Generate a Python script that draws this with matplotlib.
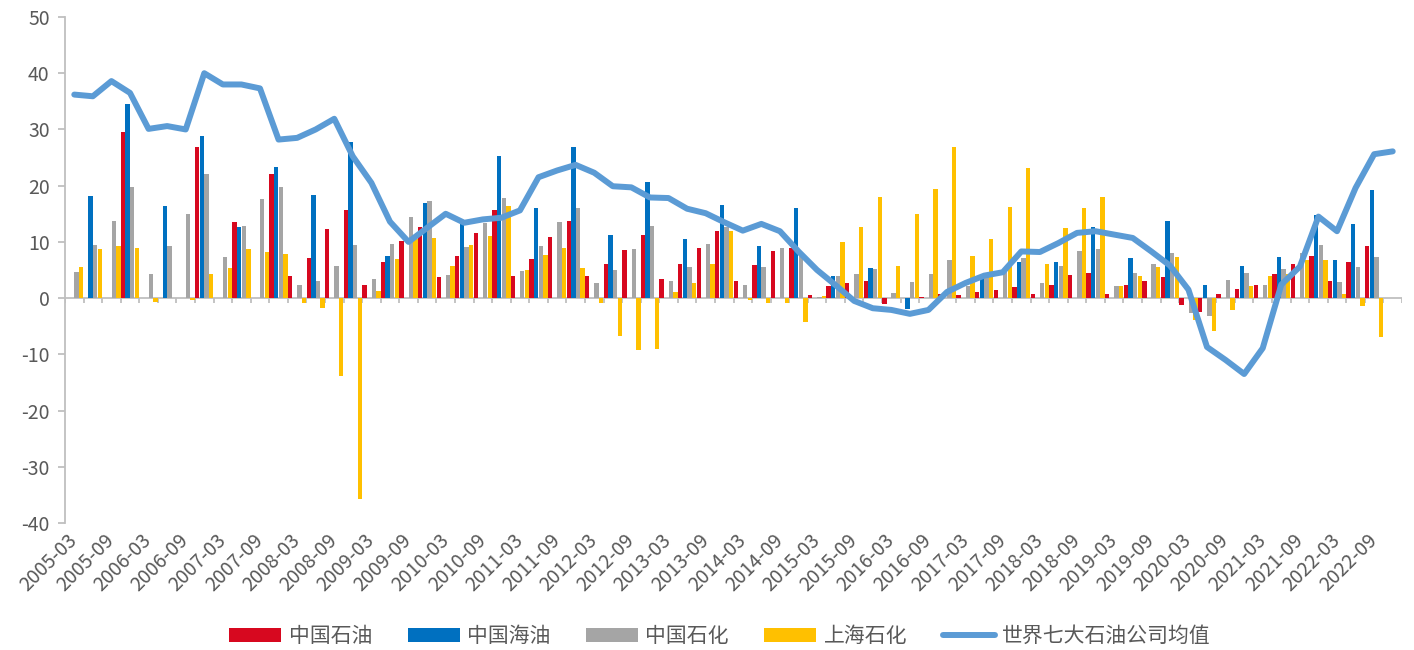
import numpy as np
import matplotlib
matplotlib.use('Agg')
import matplotlib.pyplot as plt

plt.rcParams['font.family'] = ['Noto Sans CJK SC', 'DejaVu Sans']
plt.rcParams['axes.unicode_minus'] = False

nan = np.nan

# quarterly categories 2005-03 .. 2022-12
years = list(range(2005, 2023))
months = ['03', '06', '09', '12']
quarters = [f'{y}-{m}' for y in years for m in months]

# 中国石油
petrochina = [nan, nan, nan, 29.6, nan, nan, nan, 26.9, nan, 13.5,
              nan, 22.1, 3.9, 7.1, 12.3, 15.6, 2.4, 6.4, 10.1, 12.6,
              3.8, 7.5, 11.5, 15.7, 3.9, 7.0, 10.9, 13.8, 3.9, 6.1,
              8.6, 11.3, 3.4, 6.1, 8.9, 11.9, 3.0, 5.9, 8.4, 8.9,
              0.6, 2.2, 2.6, 3.1, -1.1, nan, 0.2, 0.7, 0.5, 1.1,
              1.5, 1.9, 0.8, 2.3, 4.1, 4.4, 0.8, 2.4, 3.1, 3.7,
              -1.2, -2.4, 0.8, 1.6, 2.3, 4.3, 6.1, 7.5, 3.1, 6.4,
              9.3, nan]
# 中国海油
cnooc = [nan, 18.2, nan, 34.5, nan, 16.4, nan, 28.8, nan, 12.7,
         nan, 23.3, nan, 18.3, nan, 27.8, nan, 7.5, nan, 16.9,
         nan, 13.4, nan, 25.3, nan, 16.1, nan, 26.8, nan, 11.3,
         nan, 20.7, nan, 10.5, nan, 16.6, nan, 9.3, nan, 16.0,
         nan, 3.9, nan, 5.3, nan, -2.0, nan, nan, nan, 4.3,
         nan, 6.5, nan, 6.5, nan, 12.7, nan, 7.1, nan, 13.7,
         nan, 2.4, nan, 5.8, nan, 7.4, nan, 14.7, 6.7, 13.2,
         19.3, nan]
# 中国石化
sinopec = [4.7, 9.5, 13.7, 19.8, 4.2, 9.3, 15.0, 22.0, 7.3, 12.9,
           17.7, 19.7, 2.3, 3.1, 5.8, 9.4, 3.4, 9.7, 14.4, 17.3,
           4.1, 9.1, 13.3, 17.8, 4.8, 9.3, 13.6, 16.1, 2.7, 5.0,
           8.8, 12.9, 3.0, 5.6, 9.7, 12.6, 2.4, 5.5, 8.9, 8.1,
           0.2, 3.9, 4.2, 5.2, 0.9, 2.8, 4.3, 6.7, 2.1, 4.2,
           4.7, 7.1, 2.6, 5.8, 8.3, 8.8, 2.1, 4.4, 6.1, 8.0,
           -2.7, -3.1, 3.2, 4.5, 2.4, 5.2, 8.0, 9.5, 2.9, 5.6,
           7.4, nan]
# 上海石化
shanghai = [5.5, 8.7, 9.2, 9.0, -0.7, nan, -0.3, 4.2, 5.4, 8.7,
            8.2, 7.9, -0.9, -1.8, -13.9, -35.8, 1.2, 7.0, 10.6, 10.7,
            5.7, 9.4, 11.1, 16.3, 5.0, 7.7, 9.0, 5.3, -0.9, -6.8,
            -9.3, -9.0, 1.1, 2.7, 6.1, 11.9, -0.3, -0.9, -0.8, -4.2,
            0.4, 10.0, 12.7, 17.9, 5.7, 15.0, 19.4, 26.8, 7.5, 10.5,
            16.2, 23.2, 6.1, 12.5, 16.1, 18.0, 2.1, 3.9, 5.6, 7.4,
            -3.9, -5.9, -2.2, 2.2, 4.0, 4.3, 6.7, 6.8, 0.8, -1.4,
            -6.9, nan]
# 世界七大石油公司均值
big7_avg = [36.2, 35.9, 38.6, 36.5, 30.1, 30.6, 30.0, 40.0, 38.0, 38.0,
            37.3, 28.2, 28.5, 30.0, 31.9, 25.2, 20.5, 13.6, 10.0, 12.5,
            15.0, 13.4, 14.0, 14.3, 15.6, 21.5, 22.7, 23.7, 22.3, 19.9,
            19.7, 17.9, 17.8, 15.9, 15.1, 13.5, 12.0, 13.2, 11.9, 8.3,
            5.0, 2.3, -0.5, -1.8, -2.1, -2.8, -2.1, 1.1, 2.7, 4.0,
            4.6, 8.3, 8.2, 9.8, 11.6, 11.9, 11.3, 10.7, 8.3, 5.8,
            1.5, -8.7, -11.0, -13.5, -8.9, 2.4, 5.6, 14.5, 11.9, 19.6,
            25.6, 26.1]

series = [(petrochina, '中国石油', '#D7081F'),
          (cnooc, '中国海油', '#0070C0'),
          (sinopec, '中国石化', '#A5A5A5'),
          (shanghai, '上海石化', '#FFC000')]

fig = plt.figure(figsize=(14.14, 6.5), dpi=100)
ax = fig.add_axes([65 / 1414, 1 - 523 / 650, (1402 - 65) / 1414, (523 - 17) / 650])

x = np.arange(len(quarters))
w = 0.25
handles = []
for i, (vals, name, col) in enumerate(series):
    v = np.array(vals, dtype=float)
    m = ~np.isnan(v)
    b = ax.bar(x[m] + (i - 1.5) * w, v[m], width=w * 0.94, color=col, label=name, zorder=2)
    handles.append(b)

ln, = ax.plot(x, big7_avg, color='#5B9BD5', lw=4.3, solid_capstyle='round',
              solid_joinstyle='round', zorder=3, label='世界七大石油公司均值')
handles.append(ln)

ax.set_xlim(-0.5, len(quarters) - 0.5)
ax.set_ylim(-40, 50)
ax.set_yticks(range(-40, 51, 10))

# category axis at zero with tick marks between categories
ax.axhline(0, color='#BFBFBF', lw=1.3, zorder=1)
ax.vlines(np.arange(len(quarters) + 1) - 0.5, -0.9, 0, color='#BFBFBF', lw=1.3, zorder=1)

for s in ['top', 'right', 'bottom']:
    ax.spines[s].set_visible(False)
ax.spines['left'].set_color('#BFBFBF')
ax.spines['left'].set_linewidth(1.3)

ax.tick_params(axis='y', direction='out', length=5, width=1.3, color='#BFBFBF',
               labelcolor='#595959', labelsize=14, pad=6)
ax.set_xticks(x[::2])
ax.set_xticklabels(quarters[::2], rotation=45, ha='right', va='center',
                   rotation_mode='anchor')
ax.tick_params(axis='x', length=0, labelsize=14, labelcolor='#595959', pad=10)

fig.legend(handles=handles, loc='center', bbox_to_anchor=(720 / 1414, 1 - 636 / 650),
           ncol=5, frameon=False, fontsize=15, handlelength=2.5, handleheight=0.67,
           handletextpad=0.35, columnspacing=1.7, labelcolor='#595959')

fig.savefig('out.png', dpi=100)
